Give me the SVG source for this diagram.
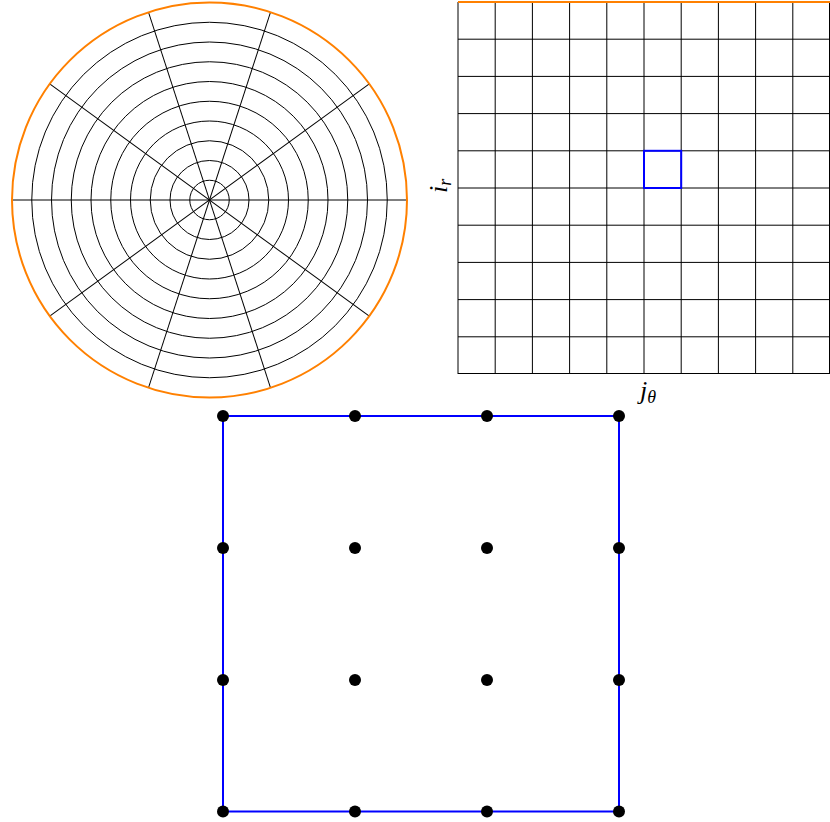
<svg xmlns="http://www.w3.org/2000/svg" width="830" height="822" viewBox="0 0 830 822">
<style>
.ring{fill:none;stroke:#000;stroke-width:1}
.spoke{stroke:#000;stroke-width:1}
.outer{fill:none;stroke:#ff8000;stroke-width:2}
.grid{stroke:#000;stroke-width:1;fill:none}
.blue{fill:none;stroke:#0000ff;stroke-width:2}
.dot{fill:#000}
.lbl{font-family:"Liberation Serif","DejaVu Serif",serif;font-style:italic;fill:#000}
</style>
<g id="polar">
<g transform="translate(209.5,200)">
<circle class="ring" r="19.75"/><circle class="ring" r="39.5"/><circle class="ring" r="59.25"/><circle class="ring" r="79"/><circle class="ring" r="98.75"/><circle class="ring" r="118.5"/><circle class="ring" r="138.25"/><circle class="ring" r="158"/><circle class="ring" r="177.75"/>
<line class="spoke" x1="-197.5" y1="0" x2="197.5" y2="0"/>
<line class="spoke" transform="rotate(36)" x1="-197.5" y1="0" x2="197.5" y2="0"/>
<line class="spoke" transform="rotate(72)" x1="-197.5" y1="0" x2="197.5" y2="0"/>
<line class="spoke" transform="rotate(108)" x1="-197.5" y1="0" x2="197.5" y2="0"/>
<line class="spoke" transform="rotate(144)" x1="-197.5" y1="0" x2="197.5" y2="0"/>
<circle class="outer" r="197.5"/>
</g>
</g>
<g id="grid">
<path class="grid" d="M458,2V374M495.2,2V374M532.4,2V374M569.6,2V374M606.8,2V374M644,2V374M681.2,2V374M718.4,2V374M755.6,2V374M792.8,2V374M829.5,2V374
M458,39.2H830M458,76.4H830M458,113.6H830M458,150.8H830M458,188H830M458,225.2H830M458,262.4H830M458,299.6H830M458,336.8H830M458,373.5H830"/>
<line x1="458" y1="2" x2="830" y2="2" stroke="#ff8000" stroke-width="2"/>
<rect class="blue" x="644" y="150.8" width="37.2" height="37.2"/>
</g>
<g id="label-ir">
<text class="lbl" transform="translate(447,193) rotate(-90)" font-size="26">i<tspan font-size="18" dy="4">r</tspan></text>
</g>
<g id="label-jtheta">
<text class="lbl" x="640" y="399" font-size="26">j<tspan font-size="18" dy="4">θ</tspan></text>
</g>
<g id="element">
<rect class="blue" x="223" y="416" width="396" height="395.5"/>
<g class="dot">
<circle cx="223" cy="416" r="6"/><circle cx="355" cy="416" r="6"/><circle cx="487" cy="416" r="6"/><circle cx="619" cy="416" r="6"/>
<circle cx="223" cy="548" r="6"/><circle cx="355" cy="548" r="6"/><circle cx="487" cy="548" r="6"/><circle cx="619" cy="548" r="6"/>
<circle cx="223" cy="680" r="6"/><circle cx="355" cy="680" r="6"/><circle cx="487" cy="680" r="6"/><circle cx="619" cy="680" r="6"/>
<circle cx="223" cy="811.5" r="6"/><circle cx="355" cy="811.5" r="6"/><circle cx="487" cy="811.5" r="6"/><circle cx="619" cy="811.5" r="6"/>
</g>
</g>
</svg>
